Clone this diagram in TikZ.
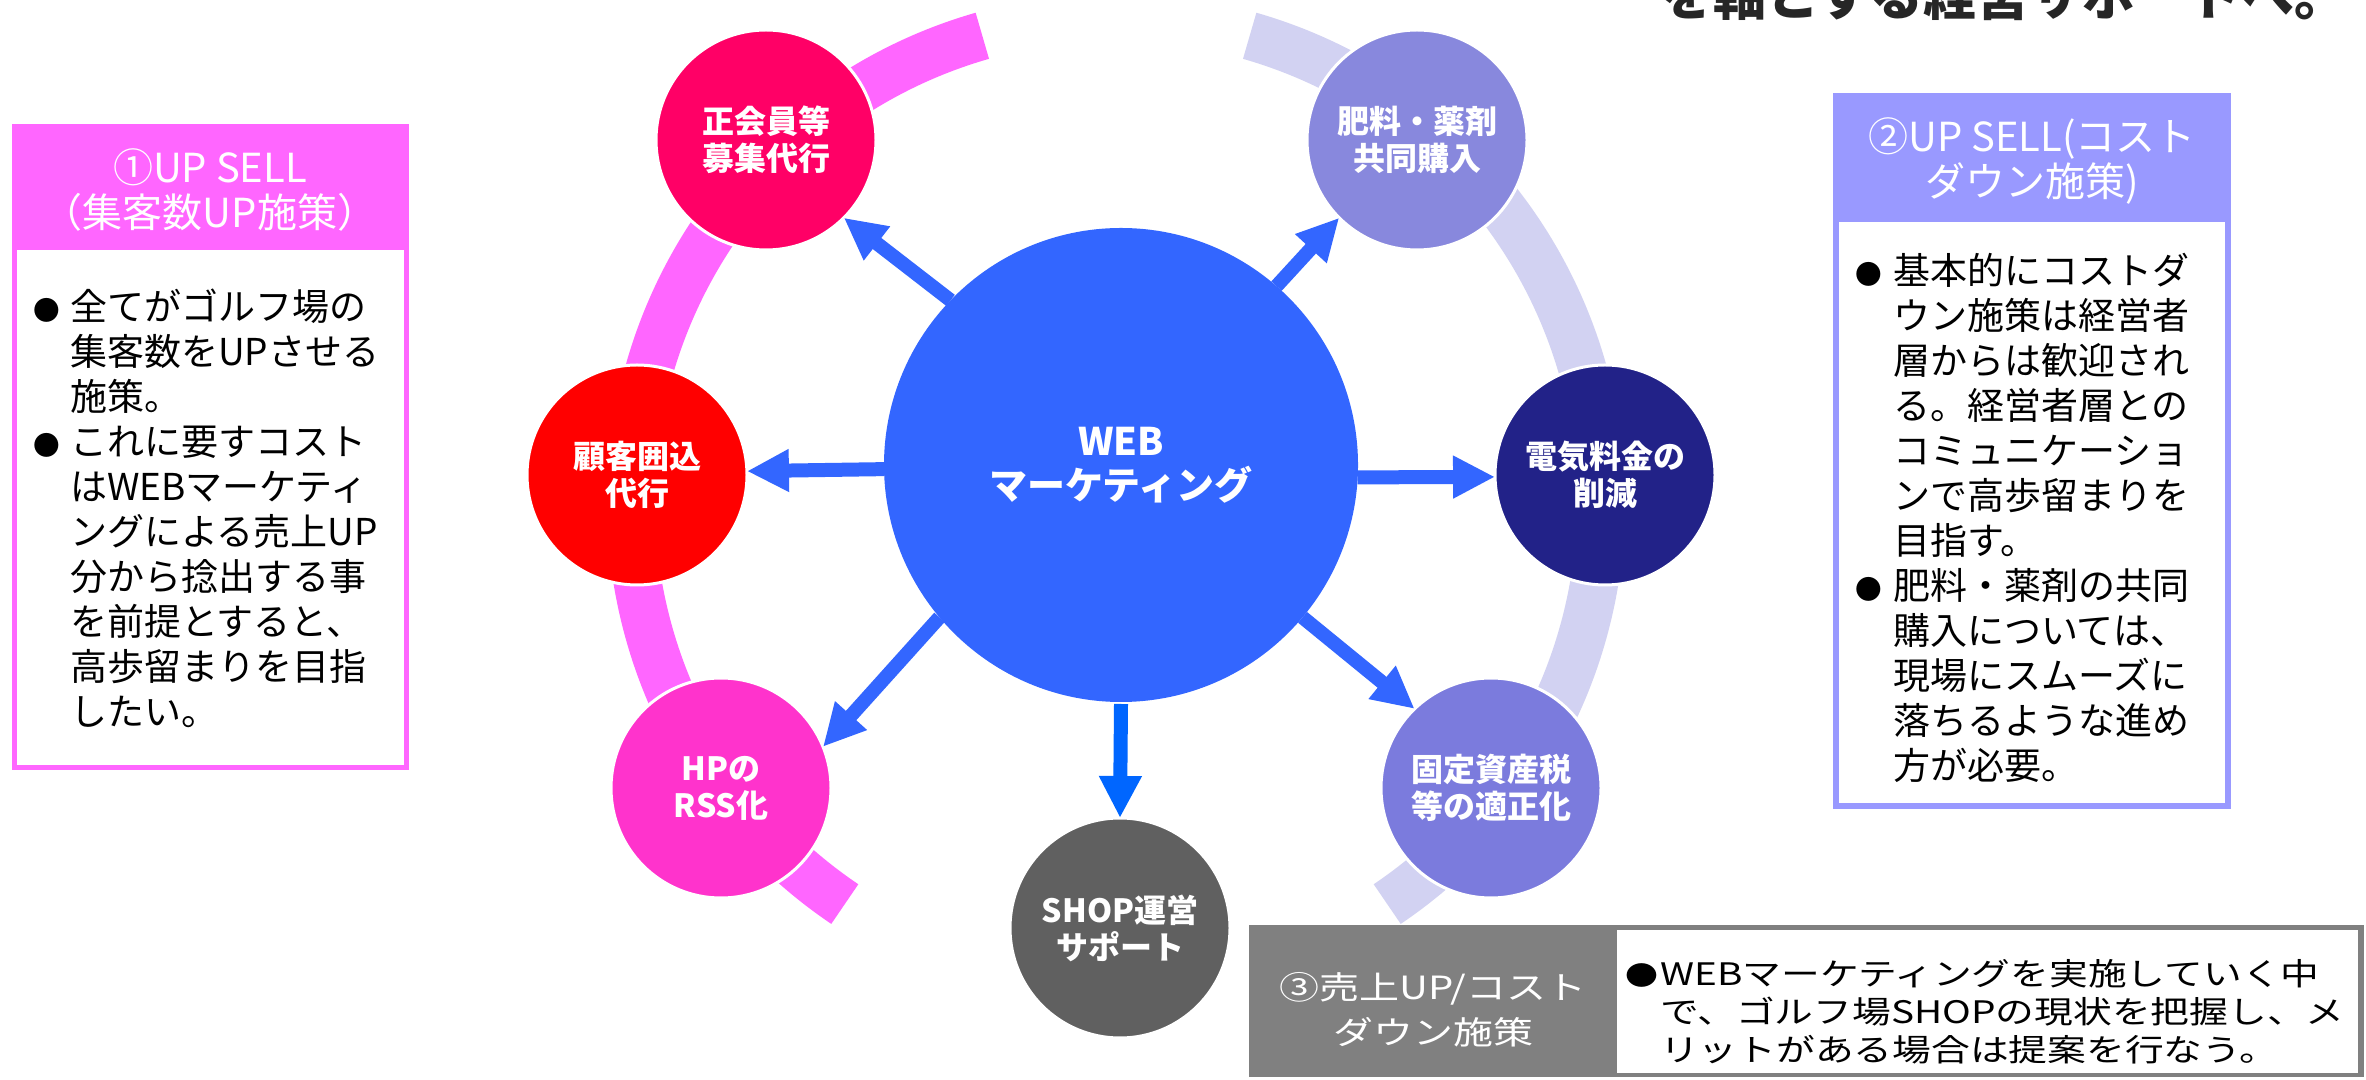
\documentclass[tikz,border=0pt]{standalone}
\usepackage{fontspec}
\setmainfont{Noto Sans CJK JP}
\newfontfamily\jpwide[FakeStretch=1.25]{Noto Sans CJK JP}
\usetikzlibrary{arrows.meta}
\definecolor{bandpink}{HTML}{FF66FF}
\definecolor{bandlav}{HTML}{D2D2F2}
\definecolor{cA}{HTML}{FF0066}
\definecolor{cB}{HTML}{FF0000}
\definecolor{cC}{HTML}{FF33CC}
\definecolor{cD}{HTML}{606060}
\definecolor{cE}{HTML}{7B7BDD}
\definecolor{cF}{HTML}{222288}
\definecolor{cG}{HTML}{8888DD}
\definecolor{webblue}{HTML}{3366FF}
\definecolor{shopblue}{HTML}{0066FF}
\definecolor{pinkbox}{HTML}{FF66FF}
\definecolor{lavbox}{HTML}{9999FF}
\definecolor{graybox}{HTML}{808080}
\definecolor{titlegray}{HTML}{262626}
\newcommand{\bul}{\scalebox{0.72}{●}}
\begin{document}
\begin{tikzpicture}[x=1pt,y=1pt,
  sat/.style={circle, minimum size=220pt, inner sep=0pt, outer sep=0pt, draw=white, line width=3pt,
    text=white, align=center, font=\bfseries\fontsize{32}{37}\selectfont},
  arr/.style={line width=14pt, draw=webblue, -{Triangle[width=40pt,length=42pt]}},
  band/.style={line width=48pt},
  bodytext/.style={anchor=north west, inner sep=0pt, outer sep=0pt, align=left, text=black,
    font=\fontsize{37}{45}\selectfont},
  headtext/.style={inner sep=0pt, align=center, text=white, font=\fontsize{40}{45}\selectfont}]
\useasboundingbox (0,0) rectangle (2366,1079);
\fill[white] (0,0) rectangle (2366,1079);

% title (cut off at the top, as in the reference)
\begin{scope}
\clip (0,0) rectangle (2366,1079);
\node[anchor=base west, inner sep=0pt, text=titlegray, font=\bfseries\fontsize{53}{53}\selectfont] (title) at (1660,1063) {を軸とする経営サポートへ。};
\end{scope}

% ring bands
\coordinate (arcc) at (1116,577);
\draw[band, bandpink] ([shift={(106:485)}]arcc) arc[start angle=106, end angle=236, radius=485];
\draw[band, bandlav] ([shift={(74:485)}]arcc) arc[start angle=74, end angle=-56, radius=485];

% circles
\node[circle, minimum size=474pt, inner sep=0pt, outer sep=0pt, fill=webblue, text=white, align=center,
  font=\bfseries\fontsize{38}{44}\selectfont] (c) at (1121,614) {WEB\\マーケティング};
\node[sat, fill=cA] (s1) at (766,939) {正会員等\\募集代行};
\node[sat, fill=cB] (s2) at (637,604) {顧客囲込\\代行};
\node[sat, fill=cC] (s3) at (721,291) {HPの\\RSS化};
\node[sat, fill=cD] (s4) at (1120,151) {SHOP運営\\サポート};
\node[sat, fill=cE] (s5) at (1491,291) {固定資産税\\等の適正化};
\node[sat, fill=cF] (s6) at (1605,604) {電気料金の\\削減};
\node[sat, fill=cG] (s7) at (1417,939) {肥料・薬剤\\共同購入};

% arrows
\draw[arr] (c.136.4) -- (s1.315.4);
\draw[arr] (c.49.6) -- (s7.225.4);
\draw[arr] (c.181.5) -- (s2.2);
\draw[arr] (c.357) -- (s6.181);
\draw[arr] (c.220.4) -- (s3.22);
\draw[arr, draw=shopblue] ([yshift=-2pt]c.south) -- (s4.north);
\draw[arr] (c.320.3) -- (s5.134.6);

% left box
\fill[pinkbox] (12,309) rectangle (409,955);
\fill[white] (17,314) rectangle (404,829);
\node[headtext] (lhead) at (210,889) {①UP SELL\\（集客数UP施策）};
\node[bodytext] (lbody) at (24,790) {\makebox[46pt][c]{\bul}全てがゴルフ場の\\
\hspace*{46pt}集客数をUPさせる\\
\hspace*{46pt}施策。\\
\makebox[46pt][c]{\bul}これに要すコスト\\
\hspace*{46pt}はWEBマーケティ\\
\hspace*{46pt}ングによる売上UP\\
\hspace*{46pt}分から捻出する事\\
\hspace*{46pt}を前提とすると、\\
\hspace*{46pt}高歩留まりを目指\\
\hspace*{46pt}したい。};

% right box
\fill[lavbox] (1833,270) rectangle (2231,986);
\fill[white] (1839,276) rectangle (2225,857);
\node[headtext] (rhead) at (2032,918) {②UP SELL(コスト\\ダウン施策)};
\node[bodytext] (rbody) at (1845,826) {\makebox[48pt][c]{\bul}基本的にコストダ\\
\hspace*{48pt}ウン施策は経営者\\
\hspace*{48pt}層からは歓迎され\\
\hspace*{48pt}る。経営者層との\\
\hspace*{48pt}コミュニケーショ\\
\hspace*{48pt}ンで高歩留まりを\\
\hspace*{48pt}目指す。\\
\makebox[48pt][c]{\bul}肥料・薬剤の共同\\
\hspace*{48pt}購入については、\\
\hspace*{48pt}現場にスムーズに\\
\hspace*{48pt}落ちるような進め\\
\hspace*{48pt}方が必要。};

% bottom box
\fill[graybox] (1249,2) rectangle (2364,154);
\fill[white] (1617,6) rectangle (2358,149);
\node[inner sep=0pt, align=center, text=white, font=\jpwide\fontsize{32}{45}\selectfont] (bhead) at (1433,69) {③売上UP/コスト\\ダウン施策};
\node[anchor=north west, inner sep=0pt, align=left, text=black, font=\jpwide\fontsize{31}{38}\selectfont] (bbody) at (1624,120) {\makebox[36pt][c]{\scalebox{0.85}{●}}WEBマーケティングを実施していく中\\
\hspace*{36pt}で、ゴルフ場SHOPの現状を把握し、メ\\
\hspace*{36pt}リットがある場合は提案を行なう。};
\end{tikzpicture}
\end{document}
